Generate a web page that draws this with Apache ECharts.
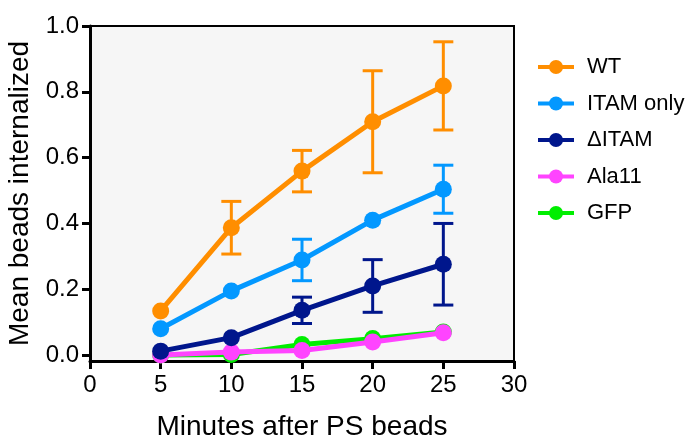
<!DOCTYPE html>
<html>
<head>
<meta charset="utf-8">
<script src="https://cdn.jsdelivr.net/npm/echarts@6/dist/echarts.min.js"></script>
<style>html,body{margin:0;padding:0;background:#fff}#c{width:697px;height:442px}</style>
</head>
<body>
<div id="c"></div>
<script>
const minutes = [5, 10, 15, 20, 25];
const xTickValues = [0, 5, 10, 15, 20, 25, 30];
const yTickValues = [0, 0.2, 0.4, 0.6, 0.8, 1.0];
const seriesNames = ['WT', 'ITAM only', '\u0394ITAM', 'Ala11', 'GFP'];

const wtMean = [0.134, 0.387, 0.559, 0.709, 0.818];
const wtErr = [0, 0.080, 0.063, 0.155, 0.134];
const itamOnlyMean = [0.080, 0.195, 0.289, 0.410, 0.504];
const itamOnlyErr = [0, 0, 0.063, 0, 0.073];
const dItamMean = [0.012, 0.053, 0.136, 0.210, 0.276];
const dItamErr = [0, 0, 0.040, 0.080, 0.124];
const ala11Mean = [0.000, 0.009, 0.014, 0.040, 0.068];
const ala11Err = [0, 0, 0, 0, 0];
const gfpMean = [0.000, 0.002, 0.032, 0.050, 0.070];
const gfpErr = [0, 0, 0, 0, 0];

const colors = ['#FF8E00', '#0398FF', '#00168C', '#FF44FF', '#00EE00'];
const means = [wtMean, itamOnlyMean, dItamMean, ala11Mean, gfpMean];
const errs = [wtErr, itamOnlyErr, dItamErr, ala11Err, gfpErr];

const FONT = 'Liberation Sans, Arial, Helvetica, sans-serif';
const chart = echarts.init(document.getElementById('c'));

const series = [];
seriesNames.forEach(function (name, i) {
  const z = 10 + (seriesNames.length - i) * 2;
  series.push({
    name: name,
    type: 'line',
    data: minutes.map(function (m, k) { return [m, means[i][k]]; }),
    symbol: 'circle',
    symbolSize: 17,
    showSymbol: true,
    lineStyle: { width: 5, color: colors[i] },
    itemStyle: { color: colors[i] },
    z: z,
    animation: false
  });
  series.push({
    name: name,
    type: 'custom',
    z: z - 1,
    silent: true,
    animation: false,
    data: minutes.map(function (m, k) { return [m, means[i][k], errs[i][k]]; }),
    encode: { x: 0, y: 1 },
    renderItem: function (params, api) {
      const e = api.value(2);
      if (!e) return { type: 'group', children: [] };
      const x = api.value(0), y = api.value(1);
      const hi = api.coord([x, y + e]);
      const lo = api.coord([x, y - e]);
      const hw = 10;
      const st = { stroke: colors[i], lineWidth: 3 };
      return {
        type: 'group',
        children: [
          { type: 'line', shape: { x1: hi[0], y1: hi[1], x2: lo[0], y2: lo[1] }, style: st },
          { type: 'line', shape: { x1: hi[0] - hw, y1: hi[1], x2: hi[0] + hw, y2: hi[1] }, style: st },
          { type: 'line', shape: { x1: lo[0] - hw, y1: lo[1], x2: lo[0] + hw, y2: lo[1] }, style: st }
        ]
      };
    }
  });
});

chart.setOption({
  animation: false,
  backgroundColor: '#ffffff',
  grid: {
    left: 90, right: 183, top: 26, bottom: 81,
    show: true, backgroundColor: '#f6f6f6', borderColor: '#000', borderWidth: 2,
    containLabel: false, outerBoundsMode: 'none'
  },
  legend: {
    orient: 'vertical',
    left: 531, top: 51,
    data: seriesNames,
    itemWidth: 36, itemHeight: 17.5, itemGap: 14.5,
    lineStyle: { width: 4 },
    textStyle: { fontFamily: FONT, fontSize: 22, color: '#000', lineHeight: 22, padding: [0, 0, 0, 8] },
    selectedMode: false
  },
  xAxis: {
    type: 'value', min: 0, max: 30, interval: 5,
    name: 'Minutes after PS beads', nameLocation: 'middle', nameGap: 52,
    nameTextStyle: { fontFamily: FONT, fontSize: 28, color: '#000' },
    axisLine: { onZero: false, lineStyle: { color: '#000', width: 3 } },
    axisTick: { length: 8, lineStyle: { color: '#000', width: 3 } },
    axisLabel: { fontFamily: FONT, fontSize: 24, color: '#000', margin: 12 },
    splitLine: { show: false }
  },
  yAxis: {
    type: 'value', min: -0.018, max: 1.0,
    name: 'Mean beads internalized', nameLocation: 'middle', nameGap: 52,
    nameTextStyle: { fontFamily: FONT, fontSize: 28, color: '#000' },
    axisLine: { onZero: false, lineStyle: { color: '#000', width: 3 } },
    axisTick: { length: 8, customValues: yTickValues, lineStyle: { color: '#000', width: 3 } },
    axisLabel: { fontFamily: FONT, fontSize: 24, color: '#000', margin: 11,
      customValues: yTickValues,
      formatter: function (v) { return v.toFixed(1); } },
    splitLine: { show: false }
  },
  series: series
});
</script>
</body>
</html>
